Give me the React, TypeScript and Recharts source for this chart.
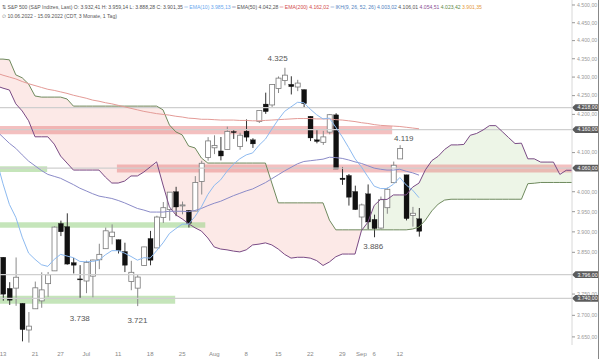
import React from "react";
import {
  ComposedChart, Bar, Line, Area, XAxis, YAxis, ReferenceLine, ReferenceArea, ReferenceDot,
} from "recharts";

// daily candles 10.06.2022 - 15.09.2022 (index -1 = 10.06)
const opens = [3974.39, 3838.15, 3763.52, 3764.05, 3728.18, 3665.9, 3715.31, 3733.89, 3774.71, 3805.27, 3920.76, 3913.0, 3825.09, 3785.99, 3781.0, 3792.61, 3831.98, 3858.85, 3888.26, 3880.94, 3851.95, 3779.67, 3763.99, 3818.0, 3883.79, 3860.73, 3935.32, 3955.47, 4000.17, 3965.72, 3953.22, 3951.43, 4026.13, 4087.33, 4112.38, 4104.21, 4107.96, 4154.85, 4115.87, 4155.93, 4133.11, 4181.02, 4227.4, 4225.02, 4269.37, 4290.46, 4280.4, 4273.13, 4266.31, 4195.08, 4133.09, 4126.55, 4153.26, 4198.74, 4034.58, 4041.25, 4000.67, 3936.73, 3994.66, 3930.89, 3909.43, 3959.94, 4022.94, 4083.67, 4042.91, 3940.73, 3932.41];
const highs = [3974.39, 3838.15, 3778.18, 3837.56, 3728.18, 3707.71, 3779.65, 3801.79, 3802.58, 3913.65, 3927.72, 3945.86, 3836.5, 3818.99, 3829.82, 3832.19, 3870.91, 3910.63, 3918.5, 3880.94, 3873.41, 3829.44, 3796.41, 3863.62, 3902.44, 3939.81, 3974.13, 3999.29, 4012.44, 3975.3, 3953.22, 4039.56, 4078.95, 4140.15, 4144.95, 4140.47, 4167.66, 4161.29, 4151.58, 4186.62, 4137.3, 4211.03, 4257.91, 4280.47, 4301.79, 4325.28, 4302.18, 4292.53, 4266.31, 4195.08, 4159.77, 4156.56, 4200.54, 4203.04, 4062.99, 4044.98, 4015.37, 3970.23, 4018.43, 3942.55, 3987.89, 4010.5, 4076.81, 4119.28, 4042.91, 3961.94, 3959.14];
const lows = [3900.16, 3734.3, 3724.29, 3722.3, 3639.77, 3636.87, 3715.31, 3717.69, 3743.52, 3805.27, 3889.66, 3820.14, 3799.02, 3738.67, 3752.1, 3742.06, 3809.37, 3858.85, 3869.34, 3847.22, 3802.36, 3759.07, 3721.56, 3817.18, 3818.63, 3860.73, 3922.03, 3927.64, 3938.85, 3943.46, 3910.74, 3951.43, 3992.97, 4079.22, 4096.02, 4079.81, 4107.96, 4135.42, 4107.31, 4128.97, 4112.09, 4177.26, 4201.41, 4219.78, 4256.9, 4277.77, 4253.08, 4261.98, 4218.7, 4129.86, 4124.03, 4119.97, 4147.59, 4057.66, 4017.42, 3965.21, 3954.53, 3903.65, 3906.21, 3886.75, 3906.03, 3944.81, 4022.94, 4083.67, 3928.27, 3912.85, 3888.28];
const closes = [3900.86, 3749.63, 3735.48, 3789.99, 3666.77, 3674.84, 3764.79, 3759.89, 3795.73, 3911.74, 3900.11, 3821.55, 3818.83, 3785.38, 3825.33, 3831.39, 3845.08, 3902.62, 3899.38, 3854.43, 3818.8, 3801.78, 3790.38, 3863.16, 3830.85, 3936.69, 3959.9, 3998.95, 3961.63, 3966.84, 3921.05, 4023.61, 4072.43, 4130.29, 4118.63, 4091.19, 4155.17, 4151.94, 4145.19, 4140.06, 4122.47, 4210.24, 4207.27, 4280.15, 4297.14, 4305.2, 4274.04, 4283.74, 4228.48, 4137.99, 4128.73, 4140.77, 4199.12, 4057.66, 4030.61, 3986.16, 3955.0, 3966.85, 3924.26, 3908.19, 3979.87, 4006.18, 4067.36, 4110.41, 3932.69, 3946.01, 3901.35];

const ema10 = [4080, 4020, 3968, 3936, 3887, 3848, 3833, 3820, 3816, 3833, 3845, 3841, 3837, 3828, 3827, 3828, 3831, 3844, 3854, 3854, 3848, 3840, 3831, 3837, 3836, 3854, 3873, 3896, 3908, 3919, 3919, 3938, 3962, 3993, 4016, 4030, 4052, 4070, 4084, 4094, 4099, 4119, 4135, 4161, 4186, 4208, 4220, 4232, 4231, 4214, 4199, 4188, 4190, 4166, 4141, 4113, 4084, 4063, 4038, 4014, 4008, 4008, 4019, 4036, 4017, 4004, 3985];
const ema50 = [4156, 4140, 4124, 4111, 4094, 4078, 4066, 4054, 4044, 4039, 4034, 4026, 4018, 4009, 4002, 3995, 3989, 3986, 3983, 3978, 3972, 3965, 3958, 3954, 3949, 3949, 3949, 3951, 3951, 3951, 3950, 3953, 3958, 3965, 3971, 3976, 3983, 3990, 3996, 4002, 4007, 4015, 4023, 4033, 4043, 4053, 4062, 4071, 4077, 4079, 4081, 4083, 4088, 4087, 4085, 4081, 4076, 4072, 4066, 4060, 4057, 4055, 4055, 4057, 4052, 4048, 4042];
const ema200 = [4311, 4305, 4300, 4295, 4288, 4282, 4277, 4272, 4267, 4264, 4260, 4256, 4251, 4247, 4243, 4238, 4235, 4231, 4228, 4224, 4220, 4216, 4212, 4208, 4205, 4202, 4200, 4198, 4195, 4193, 4190, 4189, 4187, 4187, 4186, 4185, 4185, 4185, 4184, 4184, 4183, 4183, 4184, 4185, 4186, 4187, 4188, 4189, 4189, 4189, 4188, 4188, 4188, 4186, 4185, 4183, 4181, 4178, 4176, 4173, 4171, 4170, 4169, 4168, 4166, 4164, 4162];

// Ichimoku spans, shifted 26 bars ahead (index -1 .. 89)
const senkouA = [4276, 4270, 4265, 4228, 4209, 4183, 4141, 4141, 4141, 4122, 4091, 4073, 4055, 4055, 4055, 4055, 4055, 4037, 4022, 4022, 4027, 4040, 4040, 4050, 4063, 4076, 4017, 3962, 3942, 3932, 3920, 3910, 3902, 3885, 3863, 3858, 3856, 3853, 3851, 3856, 3868, 3870, 3873, 3868, 3858, 3845, 3836, 3838, 3838, 3836, 3830, 3818.2, 3826.7, 3839.3, 3845.8, 3845.8, 3845.8, 3902.9, 3923.6, 3965.7, 3980.6, 3980.6, 3991.9, 3991.9, 3991.9, 4011.6, 4021.9, 4055.7, 4079.3, 4090.6, 4108.1, 4119.9, 4119.9, 4121.1, 4145.0, 4149.8, 4158.8, 4170.3, 4170.3, 4154.7, 4138.9, 4123.4, 4124.4, 4083.9, 4083.9, 4075.5, 4075.5, 4075.5, 4043.9, 4054.5, 4054.5];
const senkouB = [4349, 4349, 4347, 4306, 4298, 4281, 4249, 4246, 4246, 4246, 4246, 4241, 4222, 4222, 4222, 4222, 4222, 4222, 4222, 4222, 4222, 4222, 4222, 4222, 4222, 4222, 4212, 4172, 4154, 4146, 4117, 4112, 4086, 4073, 4073, 4073, 4073, 4073, 4073, 4073, 4073, 4073, 4073, 4022, 3972, 3972, 3972, 3972, 3972, 3972, 3972, 3972, 3929, 3905, 3905, 3905, 3905, 3905, 3905, 3905, 3905, 3905, 3905, 3905, 3905, 3907, 3912, 3929, 3952, 3969, 3979, 3981.1, 3981.1, 3981.1, 3981.1, 3981.1, 3981.1, 3981.1, 3981.1, 3981.1, 3981.1, 3981.1, 3981.1, 4020.3, 4021.5, 4023.4, 4023.4, 4023.4, 4023.4, 4023.4, 4023.4];

const xTicks = [0, 5, 9, 13, 18, 23, 28, 33, 38, 43, 48, 53, 56, 58, 62];
const xTickLabels = ["13", "21", "27", "Jul", "11", "18", "25", "Aug", "8", "15", "22", "29", "Sep", "6", "12"];
const yTicks = [3650, 3700, 3750, 3850, 3900, 3950, 4000, 4100, 4200, 4250, 4300, 4350, 4400, 4450, 4500];
const levels = [4218, 4160, 4060, 3796, 3740];

const X_MIN = -0.47;
const X_MAX = 88.9;

const de = (v: number, dec = 2) => {
  const [a, b] = v.toFixed(dec).split(".");
  return a.replace(/\B(?=(\d{3})+(?!\d))/g, ".") + (b ? "," + b : "");
};

const rows = senkouA.map((sa, k) => {
  const sb = senkouB[k];
  const has = k < closes.length;
  return {
    i: k - 1,
    o: has ? opens[k] : null,
    h: has ? highs[k] : null,
    l: has ? lows[k] : null,
    c: has ? closes[k] : null,
    ema10: has ? ema10[k] : null,
    ema50: has ? ema50[k] : null,
    ema200: has ? ema200[k] : null,
    sa,
    sb,
    red: [sa, Math.max(sa, sb)],
    green: [sb, Math.max(sa, sb)],
  };
});

const Candle = (props: any) => {
  const { x, y, width, height, payload } = props;
  if (payload.o == null || height == null) return null;
  const cx = x + width / 2;
  const lh = Math.log(payload.h);
  const ll = Math.log(payload.l);
  const py = (v: number) => (lh === ll ? y : y + (height * (lh - Math.log(v))) / (lh - ll));
  const yo = py(payload.o);
  const yc = py(payload.c);
  const up = payload.c >= payload.o;
  const top = Math.min(yo, yc);
  const bh = Math.max(Math.abs(yc - yo), 1);
  return (
    <g>
      <line x1={cx} x2={cx} y1={y} y2={y + height} stroke={up ? "#8a8a8a" : "#333"} strokeWidth={1} />
      <rect
        x={cx - 2.5}
        y={top}
        width={5}
        height={bh}
        fill={up ? "#fff" : "#111"}
        stroke={up ? "#7a7a7a" : "#111"}
        strokeWidth={up ? 0.8 : 0.3}
      />
    </g>
  );
};

const Tag = (props: any) => {
  const { viewBox, value } = props;
  const x0 = viewBox.x + viewBox.width;
  const y0 = viewBox.y;
  return (
    <g>
      <polygon
        points={`${x0},${y0} ${x0 + 3.5},${y0 - 3.4} ${x0 + 27},${y0 - 3.4} ${x0 + 27},${y0 + 3.4} ${x0 + 3.5},${y0 + 3.4}`}
        fill="#5c5c5c"
      />
      <text x={x0 + 15.5} y={y0 + 1.9} fontSize={5.2} fill="#fff" textAnchor="middle" fontFamily="Liberation Sans, Arial, sans-serif">
        {de(value)}
      </text>
    </g>
  );
};

const note = (text: string, dx: number, dy: number) => (props: any) => {
  const { viewBox } = props;
  return (
    <text
      x={viewBox.x + dx}
      y={viewBox.y + dy + 3}
      fontSize={8}
      fill="#555"
      textAnchor="middle"
      fontFamily="Liberation Sans, Arial, sans-serif"
    >
      {text}
    </text>
  );
};

export default function App() {
  const font = "Liberation Sans, Arial, sans-serif";
  return (
    <div style={{ position: "relative", width: 600, height: 359, background: "#fff", fontFamily: font }}>
      <style>{`body{margin:0}`}</style>
      <ComposedChart width={600} height={359} data={rows} margin={{ top: 0, right: 0, bottom: 0, left: 0 }}>
        <XAxis
          dataKey="i"
          type="number"
          domain={[X_MIN, X_MAX]}
          allowDataOverflow
          ticks={xTicks}
          tickFormatter={(v) => xTickLabels[xTicks.indexOf(v)] ?? ""}
          axisLine={false}
          tickLine={false}
          height={14}
          tick={{ fontSize: 6, fill: "#888", fontFamily: font }}
          tickMargin={1}
        />
        <YAxis
          orientation="right"
          type="number"
          scale="log"
          domain={[3631.4, 4514.2]}
          allowDataOverflow
          ticks={yTicks}
          tickFormatter={(v) => de(v)}
          width={28}
          axisLine={{ stroke: "#d8d8d8" }}
          tickLine={{ stroke: "#999" }}
          tickSize={3}
          tickMargin={2}
          tick={{ fontSize: 5.2, fill: "#999", fontFamily: font, textAnchor: "start" }}
        />
        <Area dataKey="red" stroke="none" fill="#fbe4e1" fillOpacity={0.8} dot={false} activeDot={false} isAnimationActive={false} />
        <Area dataKey="green" stroke="none" fill="#e8f3e1" fillOpacity={0.8} dot={false} activeDot={false} isAnimationActive={false} />
        {levels.map((lv) => (
          <ReferenceLine key={lv} y={lv} stroke="#cfcfcf" strokeWidth={1.2} label={<Tag value={lv} />} />
        ))}
        <Line dataKey="sb" stroke="#6f8a5e" strokeWidth={1} dot={false} activeDot={false} isAnimationActive={false} />
        <Line dataKey="sa" stroke="#7a4b85" strokeWidth={1} dot={false} activeDot={false} isAnimationActive={false} />
        <Line dataKey="ema200" stroke="#e49b97" strokeWidth={1} dot={false} activeDot={false} isAnimationActive={false} />
        <Line dataKey="ema50" stroke="#8b8bc8" strokeWidth={1} dot={false} activeDot={false} isAnimationActive={false} />
        <Line dataKey="ema10" stroke="#8dbaf0" strokeWidth={1} dot={false} activeDot={false} isAnimationActive={false} />
        <Bar
          dataKey={(d: any) => (d.o == null ? null : [d.l, d.h])}
          barSize={5}
          shape={<Candle />}
          activeBar={false}
          isAnimationActive={false}
        />
        <ReferenceArea x1={X_MIN} x2={60.8} y1={4148} y2={4169} fill="#e57373" fillOpacity={0.45} stroke="none" ifOverflow="hidden" />
        <ReferenceArea x1={17.8} x2={X_MAX} y1={4049} y2={4069} fill="#e57373" fillOpacity={0.45} stroke="none" ifOverflow="hidden" />
        <ReferenceArea x1={X_MIN} x2={6.9} y1={4050} y2={4065} fill="#9fd48c" fillOpacity={0.6} stroke="none" ifOverflow="hidden" />
        <ReferenceArea x1={X_MIN} x2={31.6} y1={3910} y2={3924} fill="#9fd48c" fillOpacity={0.6} stroke="none" ifOverflow="hidden" />
        <ReferenceArea x1={X_MIN} x2={26.9} y1={3727} y2={3746} fill="#9fd48c" fillOpacity={0.6} stroke="none" ifOverflow="hidden" />
        <ReferenceDot x={44} y={4325.28} r={0} stroke="none" label={note("4.325", -7, -10)} />
        <ReferenceDot x={62} y={4119.28} r={0} stroke="none" label={note("4.119", 4, -7)} />
        <ReferenceDot x={58} y={3886.75} r={0} stroke="none" label={note("3.886", -1, 9)} />
        <ReferenceDot x={12} y={3738.67} r={0} stroke="none" label={note("3.738", 0, 19)} />
        <ReferenceDot x={21} y={3721.56} r={0} stroke="none" label={note("3.721", 0, 14)} />
      </ComposedChart>
      <div style={{ position: "absolute", left: 598, top: 0, width: 1, height: 359, background: "#888" }} />
      <svg width={600} height={24} style={{ position: "absolute", left: 0, top: 0, pointerEvents: "none" }}>
        <text x={2} y={8.6} fontSize={5.1} fill="#555" fontFamily={font}>
          <tspan>⇅ S&amp;P 500 (S&amp;P Indizes, Last)  O: 3.932,41  H: 3.959,14  L: 3.888,28  C: 3.901,35  </tspan>
          <tspan fill="#6aa8ee">═ EMA(10)  3.985,13  </tspan>
          <tspan fill="#34408a">═ </tspan>
          <tspan fill="#555">EMA(50)  4.042,28  </tspan>
          <tspan fill="#d24a4a">═ EMA(200)  4.162,02  </tspan>
          <tspan fill="#4f7fc0">═ IKH(9, 26, 52, 26)  4.003,02 </tspan>
          <tspan fill="#555">4.106,01 </tspan>
          <tspan fill="#8a4f95">4.054,51 </tspan>
          <tspan fill="#5e8a4a">4.023,42 </tspan>
          <tspan fill="#e59a3a">3.901,35</tspan>
        </text>
        <text x={2} y={18.4} fontSize={5.1} fill="#555" fontFamily={font}>
          ⏱ 10.06.2022 - 15.09.2022  (CDT, 3 Monate, 1 Tag)
        </text>
      </svg>
    </div>
  );
}
